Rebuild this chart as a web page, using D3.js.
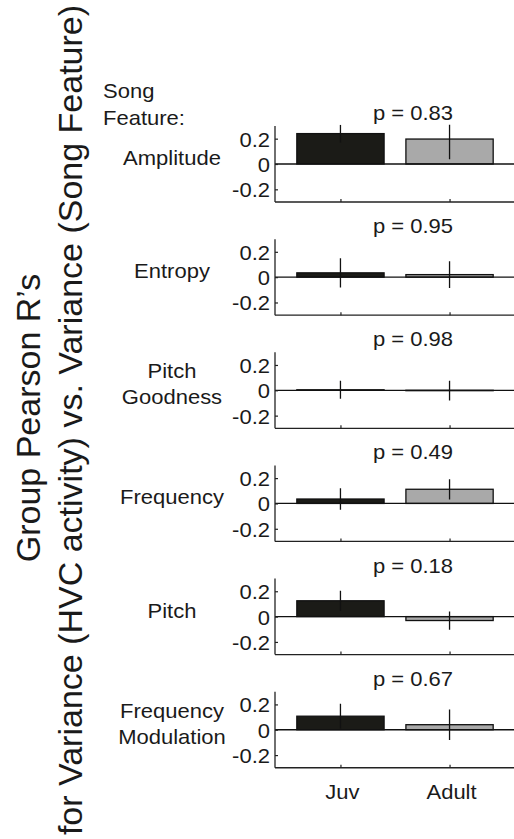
<!DOCTYPE html>
<html>
<head>
<meta charset="utf-8">
<script src="https://cdn.jsdelivr.net/npm/d3@7"></script>
<style>
  html, body { margin: 0; padding: 0; background: #fff; }
  svg { display: block; }
  text { font-family: "Liberation Sans", Arial, Helvetica, sans-serif; fill: #1a1a1a; }
</style>
</head>
<body>
<svg id="chart" width="514" height="839"></svg>
<script>
// ---- data ----
const groups = ["Juv", "Adult"];
const features = [["Amplitude"], ["Entropy"], ["Pitch", "Goodness"], ["Frequency"], ["Pitch"], ["Frequency", "Modulation"]];
const pValues = ["0.83", "0.95", "0.98", "0.49", "0.18", "0.67"];
const juvMean  = [0.240, 0.034, 0.004, 0.035, 0.125, 0.107];
const juvErr   = [0.070, 0.116, 0.071, 0.085, 0.080, 0.098];
const adultMean = [0.197, 0.020, -0.003, 0.112, -0.031, 0.040];
const adultErr  = [0.160, 0.106, 0.078, 0.080, 0.072, 0.120];
const yTicks = [-0.2, 0, 0.2];
const yTickLabels = ["-0.2", "0", "0.2"];
const yLabelLines = ["Group Pearson R\u2019s", "for Variance (HVC activity) vs. Variance (Song Feature)"];
const featureHeader = ["Song", "Feature:"];

// ---- layout ----
const svg = d3.select("#chart");
const left = 275, right = 515;
const firstTop = 126, panelStep = 113.15, panelH = 76;
const sx = 1.1;          // horizontal stretch of the original's text
const fs = 20;

const x = d3.scaleLinear().domain([0.4, 2.6]).range([left, right]);
const barW = x(0.8) - x(0);

function txt(parent, px, py, s, anchor, size) {
  return parent.append("text")
    .attr("transform", `translate(${px},${py}) scale(${sx},1)`)
    .attr("text-anchor", anchor || "start")
    .style("font-size", (size || fs) + "px")
    .text(s);
}

const defs = svg.append("defs");

features.forEach((lab, i) => {
  const top = firstTop + i * panelStep;
  const y = d3.scaleLinear().domain([-0.3, 0.3]).range([top + panelH, top]);
  const g = svg.append("g");
  const cid = "clip" + i;
  defs.append("clipPath").attr("id", cid).append("rect")
    .attr("x", left).attr("y", y(0.31)).attr("width", right - left).attr("height", y(-0.31) - y(0.31));

  const vals = [
    {grp: 0, m: juvMean[i], e: juvErr[i], fill: "#1b1b17"},
    {grp: 1, m: adultMean[i], e: adultErr[i], fill: "#a9a9a9"}
  ];

  const plot = g.append("g").attr("clip-path", `url(#${cid})`);
  // bars
  plot.selectAll("rect.bar").data(vals).join("rect")
    .attr("class", "bar")
    .attr("x", d => x(d.grp + 1) - barW / 2)
    .attr("width", barW)
    .attr("y", d => Math.min(y(d.m), y(0)))
    .attr("height", d => Math.max(Math.abs(y(d.m) - y(0)), 0.01))
    .attr("fill", d => d.fill)
    .attr("stroke", "#111")
    .attr("stroke-width", 1.3);
  // zero line
  plot.append("line")
    .attr("x1", left).attr("x2", right)
    .attr("y1", y(0)).attr("y2", y(0))
    .attr("stroke", "#111").attr("stroke-width", 1.3);
  // error bars
  plot.selectAll("line.err").data(vals).join("line")
    .attr("class", "err")
    .attr("x1", d => x(d.grp + 1)).attr("x2", d => x(d.grp + 1))
    .attr("y1", d => y(d.m + d.e)).attr("y2", d => y(d.m - d.e))
    .attr("stroke", "#111").attr("stroke-width", 1.3);

  // axes (left and bottom, MATLAB style with inward ticks)
  const yAxis = d3.axisLeft(y).tickValues(yTicks).tickSize(-3).tickFormat("");
  const ya = g.append("g").attr("transform", `translate(${left},0)`).call(yAxis);
  ya.select(".domain").attr("d", `M0,${y(0.3)}V${y(-0.3)}`).attr("stroke", "#222").attr("stroke-width", 1.3);
  ya.selectAll(".tick line").attr("stroke", "#222").attr("stroke-width", 1.2);

  const xAxis = d3.axisBottom(x).tickValues([1, 2]).tickSize(-3).tickFormat("");
  const xa = g.append("g").attr("transform", `translate(0,${y(-0.3)})`).call(xAxis);
  xa.select(".domain").attr("d", `M${left},0H${right}`).attr("stroke", "#222").attr("stroke-width", 1.3);
  xa.selectAll(".tick line").attr("stroke", "#222").attr("stroke-width", 1.2);

  // tick labels
  yTicks.forEach((t, k) => txt(g, left - 5, y(t) + 8, yTickLabels[k], "end"));

  // p value
  txt(g, 413, y(0) - 44, "p = " + pValues[i], "middle");

  // feature label
  if (lab.length === 1) {
    txt(g, 172, y(0) + 1, lab[0], "middle");
  } else {
    txt(g, 172, y(0) - 12, lab[0], "middle");
    txt(g, 172, y(0) + 14, lab[1], "middle");
  }

  if (i === features.length - 1) {
    groups.forEach((gr, k) => txt(g, x(k + 1) + 2, y(-0.3) + 31, gr, "middle"));
  }
});

// header
txt(svg, 103, 98, featureHeader[0], "start");
txt(svg, 103, 125, featureHeader[1], "start");

// rotated y label
svg.append("text")
  .attr("transform", "translate(40,418) rotate(-90)")
  .attr("text-anchor", "middle").style("font-size", "34px").text(yLabelLines[0]);
svg.append("text")
  .attr("transform", "translate(82,420) rotate(-90)")
  .attr("text-anchor", "middle").style("font-size", "34px").text(yLabelLines[1]);
</script>
</body>
</html>
